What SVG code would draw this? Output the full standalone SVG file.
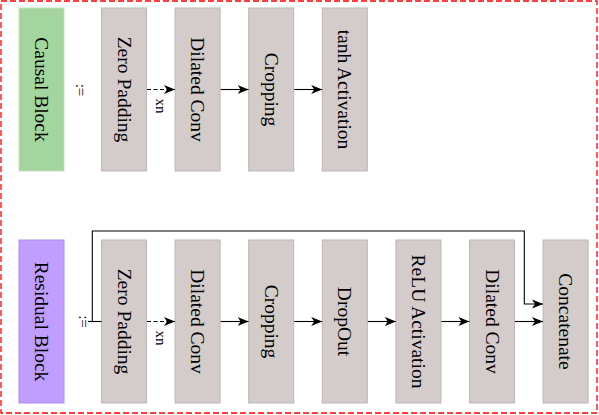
<svg xmlns="http://www.w3.org/2000/svg" width="599" height="415" viewBox="0 0 599 415">
<style>
.box{fill:#d4cbcb;stroke:#bfb5b5;stroke-width:1}
.t{font-family:"Liberation Serif","Times New Roman",serif;font-size:19.5px;fill:#000;text-anchor:middle;dominant-baseline:central}
.s{font-family:"Liberation Serif","Times New Roman",serif;font-size:15px;fill:#000;text-anchor:middle;dominant-baseline:central}
.c{fill:none;stroke:#000;stroke-width:1.1}
.d{stroke-dasharray:4,2.5}
</style>
<defs>
<marker id="ah" viewBox="-11 -5 12 10" refX="0" refY="0" markerWidth="12" markerHeight="10" markerUnits="userSpaceOnUse" orient="auto">
<path d="M0,0 L-11,-4.5 L-8,0 L-11,4.5 Z" fill="#000"/>
</marker>
</defs>
<rect x="1" y="1" width="596" height="412" fill="none" stroke="#ff0000" stroke-width="1.3" stroke-dasharray="6,3"/>

<g id="causal-block"><rect x="19" y="8" width="45" height="163" fill="#a4d59e" stroke="#c2e3bd"/><text class="t" transform="translate(41.5,89.5) rotate(90)">Causal Block</text></g>
<g id="causal-def"><text class="s" transform="translate(81,90) rotate(90)">:=</text></g>
<g id="c-zero"><rect class="box" x="101.5" y="8" width="45" height="163"/><text class="t" transform="translate(124,89.5) rotate(90)">Zero Padding</text></g>
<g id="c-dilated"><rect class="box" x="175.1" y="8" width="45" height="163"/><text class="t" transform="translate(197.6,89.5) rotate(90)">Dilated Conv</text></g>
<g id="c-crop"><rect class="box" x="248.7" y="8" width="45" height="163"/><text class="t" transform="translate(271.2,89.5) rotate(90)">Cropping</text></g>
<g id="c-tanh"><rect class="box" x="322.3" y="8" width="45" height="163"/><text class="t" transform="translate(344.8,89.5) rotate(90)">tanh Activation</text></g>

<g id="residual-block"><rect x="19" y="240" width="45" height="163" fill="#c19dff" stroke="#b08ce8"/><text class="t" transform="translate(41.5,321.5) rotate(90)">Residual Block</text></g>
<g id="residual-def"><text class="s" transform="translate(84,321.5) rotate(90)">:=</text></g>
<g id="r-zero"><rect class="box" x="101.5" y="240" width="45" height="163"/><text class="t" transform="translate(124,321.5) rotate(90)">Zero Padding</text></g>
<g id="r-dilated1"><rect class="box" x="175.1" y="240" width="45" height="163"/><text class="t" transform="translate(197.6,321.5) rotate(90)">Dilated Conv</text></g>
<g id="r-crop"><rect class="box" x="248.7" y="240" width="45" height="163"/><text class="t" transform="translate(271.2,321.5) rotate(90)">Cropping</text></g>
<g id="r-dropout"><rect class="box" x="322.3" y="240" width="45" height="163"/><text class="t" transform="translate(344.8,321.5) rotate(90)">DropOut</text></g>
<g id="r-relu"><rect class="box" x="395.9" y="240" width="45" height="163"/><text class="t" transform="translate(418.4,321.5) rotate(90)">ReLU Activation</text></g>
<g id="r-dilated2"><rect class="box" x="469.5" y="240" width="45" height="163"/><text class="t" transform="translate(492,321.5) rotate(90)">Dilated Conv</text></g>
<g id="r-concat"><rect class="box" x="543.1" y="240" width="45" height="163"/><text class="t" transform="translate(565.6,321.5) rotate(90)">Concatenate</text></g>

<g id="connectors">
<path class="c d" d="M147,89.5 H175" marker-end="url(#ah)"/>
<text class="s" transform="translate(161,106) rotate(90)">xn</text>
<path class="c" d="M220.6,89.5 H248.6" marker-end="url(#ah)"/>
<path class="c" d="M294.2,89.5 H322.2" marker-end="url(#ah)"/>

<path class="c" d="M88,321.5 H101.5"/>
<path class="c" d="M92.3,321.5 V231 H524.3 V304 H543" marker-end="url(#ah)"/>
<path class="c d" d="M147,321.5 H175" marker-end="url(#ah)"/>
<text class="s" transform="translate(161,338) rotate(90)">xn</text>
<path class="c" d="M220.6,321.5 H248.6" marker-end="url(#ah)"/>
<path class="c" d="M294.2,321.5 H322.2" marker-end="url(#ah)"/>
<path class="c" d="M367.8,321.5 H395.8" marker-end="url(#ah)"/>
<path class="c" d="M441.4,321.5 H469.4" marker-end="url(#ah)"/>
<path class="c" d="M515,321.5 H543" marker-end="url(#ah)"/>
</g>
</svg>
